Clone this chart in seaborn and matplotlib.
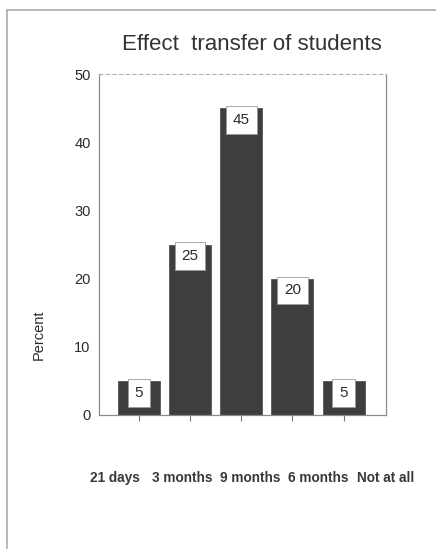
import matplotlib
matplotlib.use("Agg")
import matplotlib.pyplot as plt
import seaborn as sns
import pandas as pd
from matplotlib.lines import Line2D

categories = ["21 days", "3 months", "9 months", "6 months", "Not at all"]
values = [5, 25, 45, 20, 5]
yticks = [0, 10, 20, 30, 40, 50]
title = "Effect  transfer of students"
ylabel = "Percent"

sns.set_theme(style="white")
plt.rcParams["font.family"] = ["Liberation Sans", "DejaVu Sans"]

df = pd.DataFrame({"category": categories, "percent": values})

fig = plt.figure(figsize=(4.36, 5.49), dpi=100)
fig.patch.set_facecolor("white")
ax = fig.add_axes([99 / 436, 1 - 415 / 549, (386 - 99) / 436, (415 - 74) / 549])

sns.barplot(data=df, x="category", y="percent", order=categories,
            color="#3e3e3e", saturation=1, width=0.82, ax=ax,
            edgecolor="#555555", linewidth=0.6)

ax.set_xlim(-0.78, 4.83)
ax.set_ylim(0, 50)
ax.set_yticks(yticks)
ax.set_yticklabels([str(t) for t in yticks], fontsize=10.5, color="#2a2a2a")
ax.tick_params(axis="y", length=0, pad=6)
ax.tick_params(axis="x", direction="out", length=4, width=0.8, color="#777777",
               labelbottom=False, bottom=True)
ax.set_xlabel("")
ax.set_ylabel(ylabel, fontsize=10.5, color="#2a2a2a")
ax.yaxis.set_label_coords(-0.185, 0.235)

for side in ["left", "bottom", "right"]:
    ax.spines[side].set_visible(True)
    ax.spines[side].set_color("#8a8a8a")
    ax.spines[side].set_linewidth(0.9)
ax.spines["top"].set_visible(True)
ax.spines["top"].set_color("#b0b0b0")
ax.spines["top"].set_linestyle((0, (3, 3)))
ax.spines["top"].set_linewidth(0.8)

for i, v in enumerate(values):
    ax.annotate(str(v), xy=(i, v), xytext=(0, -8.5), textcoords="offset points",
                ha="center", va="center", fontsize=11, color="#2a2a2a",
                bbox=dict(boxstyle="square,pad=0.45", fc="white", ec="#9a9a9a", lw=0.6))

# category labels on a secondary bottom axis (labels spread wider than bars)
ax2 = ax.twiny()
ax2.set_xlim(-0.23, 3.93)
ax2.set_xticks(range(len(categories)))
ax2.set_xticklabels(categories, fontsize=9.8, fontweight="bold", color="#383838")
ax2.xaxis.set_ticks_position("bottom")
ax2.xaxis.set_label_position("bottom")
ax2.tick_params(axis="x", length=0, pad=40)
ax2.tick_params(axis="y", left=False, right=False, labelleft=False, labelright=False)
for s in ax2.spines.values():
    s.set_visible(False)

fig.suptitle(title, x=252 / 436, y=1 - 45 / 549, va="center", fontsize=16, color="#333333")

# outer frame of the scanned page
fig.add_artist(Line2D([7 / 436, 1.0], [1 - 10 / 549, 1 - 10 / 549],
                      transform=fig.transFigure, color="#aaaaaa", lw=1.2))
fig.add_artist(Line2D([7 / 436, 7 / 436], [0, 1 - 10 / 549],
                      transform=fig.transFigure, color="#aaaaaa", lw=1.2))

fig.savefig("out.png", dpi=100, facecolor="white")
